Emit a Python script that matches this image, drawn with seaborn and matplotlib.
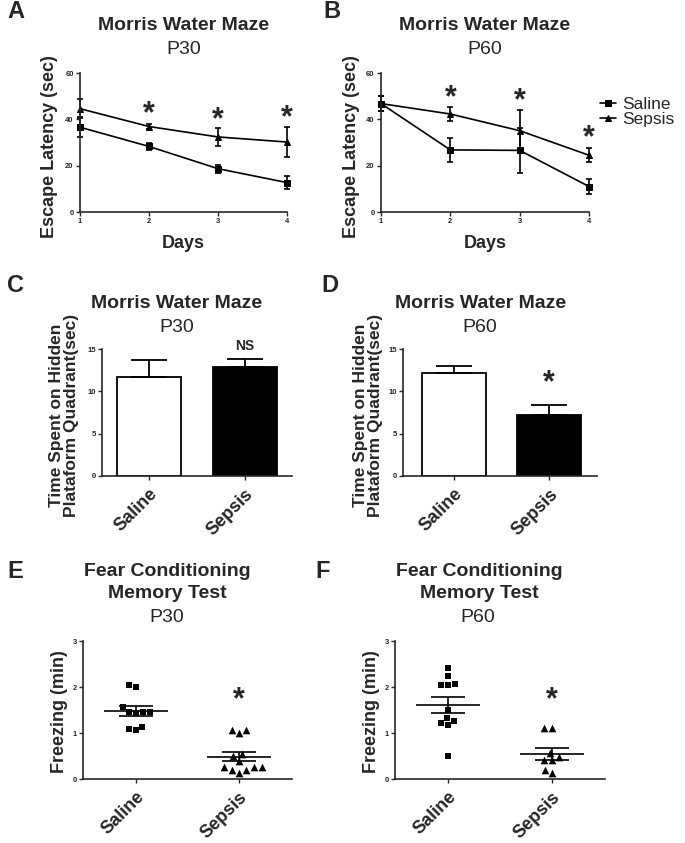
import numpy as np
import pandas as pd
import matplotlib
matplotlib.use('Agg')
import matplotlib.pyplot as plt
import seaborn as sns

# 데이터
days = [1, 2, 3, 4]
groups = ['Saline', 'Sepsis']

# A : Morris water maze P30 escape latency (mean, sem)
mwm_p30_saline = [36.6, 28.3, 18.7, 12.7]
mwm_p30_saline_sem = [4.2, 1.5, 1.8, 2.7]
mwm_p30_sepsis = [44.6, 36.9, 32.4, 30.2]
mwm_p30_sepsis_sem = [4.2, 1.2, 3.7, 6.5]
mwm_p30_stars = [42.0, 39.8, 40.6]

# B : P60
mwm_p60_saline = [46.8, 26.8, 26.6, 11.0]
mwm_p60_saline_sem = [3.2, 5.1, 9.7, 3.1]
mwm_p60_sepsis = [46.8, 42.3, 35.1, 24.5]
mwm_p60_sepsis_sem = [3.2, 3.1, 9.0, 3.0]
mwm_p60_stars = [49.2, 48.0, 32.0]

# C, D : time in target quadrant
quad_p30 = [11.65, 12.83]
quad_p30_sem = [2.0, 0.95]
quad_p60 = [12.13, 7.2]
quad_p60_sem = [0.9, 1.2]

# E, F : freezing (min)
freeze_p30_saline = [2.04, 2.0, 1.56, 1.46, 1.46, 1.46, 1.43, 1.14, 1.06, 1.09]
freeze_p30_sepsis = [1.07, 1.0, 1.07, 0.54, 0.5, 0.39, 0.26, 0.19, 0.12, 0.19, 0.26, 0.26]
freeze_p60_saline = [2.41, 2.23, 2.04, 2.04, 2.07, 1.51, 1.33, 1.22, 1.18, 1.26, 0.51]
freeze_p60_sepsis = [1.11, 1.11, 0.57, 0.41, 0.41, 0.48, 0.13, 0.19]

sns.set_style('ticks')
plt.rcParams['font.family'] = ['Liberation Sans', 'DejaVu Sans']
plt.rcParams['axes.linewidth'] = 1.2

W, H = 685, 843
fig = plt.figure(figsize=(W / 100, H / 100), dpi=100)

star_kw = dict(fontsize=22, fontweight='bold')


def px_axes(x0, x1, y0, y1):
    return fig.add_axes([x0 / W, 1 - y1 / H, (x1 - x0) / W, (y1 - y0) / H])


def ftext(x, y, s, **kw):
    fig.text(x / W, 1 - y / H, s, ha='center', va='center', **kw)


def style_axis(ax):
    sns.despine(ax=ax)
    ax.tick_params(labelsize=5.5, width=1.0, length=3, pad=1.5)
    for lab in ax.get_yticklabels():
        lab.set_fontweight('bold')


def latency_panel(ax, sal, sal_sem, sep, sep_sem, stars, legend):
    df = pd.DataFrame({'Days': days * 2, 'Latency': sal + sep,
                       'group': ['Saline'] * 4 + ['Sepsis'] * 4})
    sns.lineplot(data=df, x='Days', y='Latency', hue='group', style='group',
                 markers={'Saline': 's', 'Sepsis': '^'}, dashes=False,
                 palette=['k', 'k'], markersize=5, markeredgecolor='k',
                 linewidth=1.2, errorbar=None, legend=legend, ax=ax, clip_on=False)
    ax.errorbar(days, sal, yerr=sal_sem, fmt='none', ecolor='k', elinewidth=1.2,
                capsize=2.5, capthick=1.2, clip_on=False)
    ax.errorbar(days, sep, yerr=sep_sem, fmt='none', ecolor='k', elinewidth=1.2,
                capsize=2.5, capthick=1.2, clip_on=False)
    for d, s in zip(days[1:], stars):
        ax.text(d, s, '*', ha='center', va='center', **star_kw)
    ax.set_xlim(1, 4)
    ax.set_ylim(0, 60)
    ax.set_xticks(days)
    ax.set_yticks([0, 20, 40, 60])
    style_axis(ax)
    for lab in ax.get_xticklabels():
        lab.set_fontweight('bold')
    ax.set_xlabel('Days', fontsize=13, fontweight='bold', va='center')
    ax.xaxis.set_label_coords(0.5, -31 / 139)
    ax.set_ylabel('Escape Latency (sec)', fontsize=13, fontweight='bold', va='center')


def quad_panel(ax, vals, sems, mark, mark_y, mark_kw):
    df = pd.DataFrame({'group': groups, 'time': vals})
    sns.barplot(data=df, x='group', y='time', hue='group', palette=['white', 'black'],
                edgecolor='black', linewidth=1.3, width=0.67, errorbar=None,
                legend=False, ax=ax)
    ax.errorbar([0, 1], vals, yerr=[[0, 0], sems], fmt='none', ecolor='k',
                elinewidth=1.3, capsize=13, capthick=1.3)
    ax.text(1, mark_y, mark, ha='center', va='center', **mark_kw)
    ax.set_ylim(0, 15)
    ax.set_yticks([0, 5, 10, 15])
    style_axis(ax)
    ax.set_xticks([0, 1])
    ax.set_xticklabels(groups, rotation=45, ha='right', rotation_mode='anchor',
                       fontsize=13, fontweight='bold')
    ax.tick_params(axis='x', pad=4)
    ax.set_xlabel('')
    ax.set_ylabel('Time Spent on Hidden\nPlataform Quadrant(sec)', fontsize=12.5,
                  fontweight='bold', va='center', linespacing=1.0)


def freeze_panel(ax, sal, sep):
    df = pd.DataFrame({'group': ['Saline'] * len(sal) + ['Sepsis'] * len(sep),
                       'freezing': sal + sep})
    sns.swarmplot(data=df[df.group == 'Saline'], x='group', y='freezing', order=groups,
                  marker='s', color='k', size=5, ax=ax)
    sns.swarmplot(data=df[df.group == 'Sepsis'], x='group', y='freezing', order=groups,
                  marker='^', color='k', size=5.5, ax=ax)
    stats = df.groupby('group')['freezing'].agg(['mean', 'sem'])
    for i, g in enumerate(groups):
        m, s = stats.loc[g, 'mean'], stats.loc[g, 'sem']
        ax.hlines(m, i - 0.31, i + 0.31, color='k', lw=1.2)
        ax.errorbar(i, m, yerr=s, fmt='none', ecolor='k', elinewidth=1.2,
                    capsize=12.5, capthick=1.2)
    ax.text(1, 1.72, '*', ha='center', va='center', **star_kw)
    ax.set_ylim(0, 3)
    ax.set_yticks([0, 1, 2, 3])
    style_axis(ax)
    ax.set_xticks([0, 1])
    ax.set_xticklabels(groups, rotation=45, ha='right', rotation_mode='anchor',
                       fontsize=13, fontweight='bold')
    ax.tick_params(axis='x', pad=4)
    ax.set_xlabel('')
    ax.set_ylabel('Freezing (min)', fontsize=13, fontweight='bold', va='center')


# A
axA = px_axes(80, 287, 73, 212)
latency_panel(axA, mwm_p30_saline, mwm_p30_saline_sem, mwm_p30_sepsis,
              mwm_p30_sepsis_sem, mwm_p30_stars, False)
axA.yaxis.set_label_coords((50 - 80) / 207, 0.47)

# B
axB = px_axes(381, 589, 73, 212)
latency_panel(axB, mwm_p60_saline, mwm_p60_saline_sem, mwm_p60_sepsis,
              mwm_p60_sepsis_sem, mwm_p60_stars, True)
axB.yaxis.set_label_coords((352 - 381) / 208, 0.47)
sns.move_legend(axB, 'center left', bbox_to_anchor=(600 / W, 1 - 112 / H),
                bbox_transform=fig.transFigure, title=None, frameon=False,
                fontsize=12.5, handlelength=0.9, handletextpad=0.35, labelspacing=0.0,
                borderpad=0, borderaxespad=0)
for h in axB.get_legend().legend_handles:
    h.set_markeredgecolor('k')
    h.set_markersize(4)

# C
axC = px_axes(102, 292, 349, 476)
quad_panel(axC, quad_p30, quad_p30_sem, 'NS', 15.3, dict(fontsize=10, fontweight='bold'))
axC.set_xlim(-0.49, 1.49)
axC.yaxis.set_label_coords((64 - 102) / 190, 0.48)

# D
axD = px_axes(403, 597, 349, 476)
quad_panel(axD, quad_p60, quad_p60_sem, '*', 11.0, star_kw)
axD.set_xlim(-0.53, 1.5)
axD.yaxis.set_label_coords((368 - 403) / 194, 0.48)

# E
axE = px_axes(83, 292, 641, 779)
freeze_panel(axE, freeze_p30_saline, freeze_p30_sepsis)
axE.set_xlim(-0.515, 1.515)
axE.yaxis.set_label_coords((60 - 83) / 209, 0.49)

# F
axF = px_axes(395, 605, 641, 779)
freeze_panel(axF, freeze_p60_saline, freeze_p60_sepsis)
axF.set_xlim(-0.51, 1.51)
axF.yaxis.set_label_coords((372 - 395) / 210, 0.49)

# titles
tb = dict(fontsize=14, fontweight='bold')
tr = dict(fontsize=14)
ftext(184, 25, 'Morris Water Maze', **tb)
ftext(184, 50, 'P30', **tr)
ftext(485, 25, 'Morris Water Maze', **tb)
ftext(485, 50, 'P60', **tr)
ftext(177, 303, 'Morris Water Maze', **tb)
ftext(177, 327, 'P30', **tr)
ftext(481, 303, 'Morris Water Maze', **tb)
ftext(480, 327, 'P60', **tr)
ftext(167, 572, 'Fear Conditioning', **tb)
ftext(167, 593, 'Memory Test', **tb)
ftext(167, 617, 'P30', **tr)
ftext(479, 572, 'Fear Conditioning', **tb)
ftext(479, 593, 'Memory Test', **tb)
ftext(478, 617, 'P60', **tr)

# panel letters
lk = dict(fontsize=17, fontweight='bold')
ftext(16, 12, 'A', **lk)
ftext(332, 12, 'B', **lk)
ftext(15, 285, 'C', **lk)
ftext(330, 285, 'D', **lk)
ftext(15, 571, 'E', **lk)
ftext(323, 571, 'F', **lk)

fig.savefig('out.png', dpi=100)
